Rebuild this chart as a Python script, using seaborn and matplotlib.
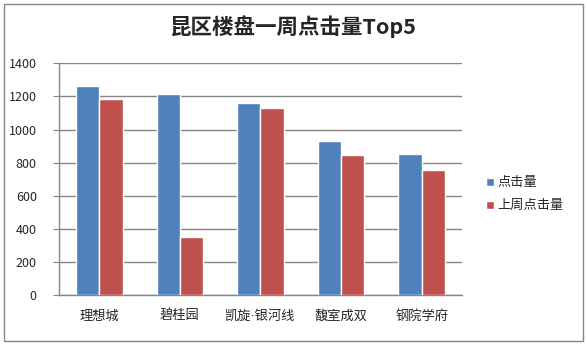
import pandas as pd
import matplotlib
matplotlib.use("Agg")
import matplotlib.pyplot as plt
from matplotlib.patches import Rectangle
import seaborn as sns

# données
projets = ["理想城", "碧桂园", "凯旋·银河线", "馥室成双", "钢院学府"]
clics = [1265, 1212, 1158, 929, 851]
clics_sem_prec = [1183, 354, 1128, 845, 755]
series = ["点击量", "上周点击量"]

df = pd.DataFrame({
    "projet": projets * 2,
    "valeur": clics + clics_sem_prec,
    "serie": [series[0]] * len(projets) + [series[1]] * len(projets),
})

sns.set_style("white")
plt.rcParams["font.family"] = ["Noto Sans CJK SC", "DejaVu Sans"]

fig = plt.figure(figsize=(5.87, 3.45), dpi=100)
ax = fig.add_axes([0.1005, 0.1435, 0.6865, 0.6735])

sns.barplot(data=df, x="projet", y="valeur", hue="serie",
            palette=["#4F81BD", "#C0504D"], width=0.58, saturation=1,
            ax=ax, zorder=3)

ax.set_ylim(0, 1400)
ax.set_yticks(range(0, 1401, 200))
ax.set_xlim(-0.5, 4.5)
ax.grid(axis="y", color="#868686", linewidth=1, zorder=0)
ax.set_xlabel("")
ax.set_ylabel("")
for s in ["top", "right"]:
    ax.spines[s].set_visible(False)
for s in ["left", "bottom"]:
    ax.spines[s].set_color("#868686")
    ax.spines[s].set_linewidth(1)
ax.tick_params(axis="y", labelsize=9, length=4, color="#868686", pad=12, direction="out", left=True)
ax.tick_params(axis="x", labelsize=9.5, length=0, pad=10)
# point médian étroit : DejaVu d'abord pour les étiquettes x
for lab in ax.get_xticklabels():
    lab.set_fontfamily(["DejaVu Sans", "Noto Sans CJK SC"])

ax.legend(loc="center left", bbox_to_anchor=(1.03, 0.435), frameon=False,
          fontsize=9.5, handlelength=0.6, handleheight=0.6, handletextpad=0.3,
          labelspacing=0.75)

fig.suptitle("昆区楼盘一周点击量Top5", y=0.955, fontsize=15.5, fontweight="bold")

# cadre extérieur
fig.patches.append(Rectangle((0.007, 0.012), 0.986, 0.976, transform=fig.transFigure,
                             fill=False, edgecolor="#868686", linewidth=1))

fig.savefig("out.png", dpi=100)
